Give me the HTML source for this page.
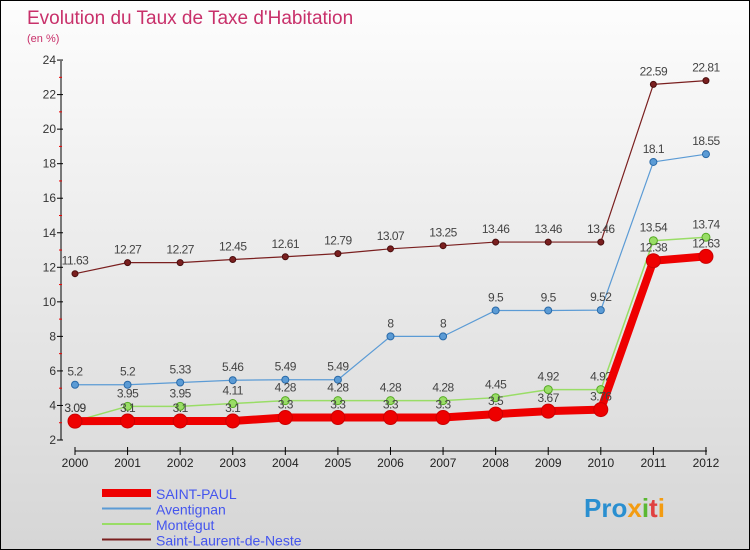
<!DOCTYPE html>
<html><head><meta charset="utf-8"><style>
body{margin:0}
#c{width:748px;height:548px;border:1px solid #000;background:linear-gradient(#fdfdfd,#d6d6d6);position:relative;font-family:"Liberation Sans",sans-serif;overflow:hidden}
</style></head><body>
<div id="c">
<svg id="s" width="748" height="548"></svg>
</div>
<script>
const years=["2000","2001","2002","2003","2004","2005","2006","2007","2008","2009","2010","2011","2012"];
const saintPaul=[3.09,3.1,3.1,3.1,3.3,3.3,3.3,3.3,3.5,3.67,3.76,12.38,12.63];
const aventignan=[5.2,5.2,5.33,5.46,5.49,5.49,8,8,9.5,9.5,9.52,18.1,18.55];
const montegut=[3.09,3.95,3.95,4.11,4.28,4.28,4.28,4.28,4.45,4.92,4.92,13.54,13.74];
const saintLaurent=[11.63,12.27,12.27,12.45,12.61,12.79,13.07,13.25,13.46,13.46,13.46,22.59,22.81];
const yTicks=[2,4,6,8,10,12,14,16,18,20,22,24];
const s=document.getElementById('s');const NS="http://www.w3.org/2000/svg";
function X(i){return 74+i*52.58}
function Y(v){return 439-(v-2)*17.27}
function el(t,a,p){const e=document.createElementNS(NS,t);for(const k in a)e.setAttribute(k,a[k]);(p||s).appendChild(e);return e}
function txt(x,y,str,a,p){const e=el('text',Object.assign({x:x,y:y},a),p);e.textContent=str;return e}
let t=txt(26,23,"Evolution du Taux de Taxe d'Habitation",{fill:"#c8306a","font-size":19});


t=txt(26,41,"(en %)",{fill:"#c8306a","font-size":11});


let ax=el('line',{x1:60,y1:60,x2:60,y2:439,stroke:"#000"});


ax=el('line',{x1:74,y1:450,x2:706,y2:450,stroke:"#000"});


yTicks.forEach(v=>{el('line',{x1:56,x2:62,y1:Y(v),y2:Y(v),stroke:"#000"});
 if(v<24)el('line',{x1:58,x2:61,y1:Y(v+1),y2:Y(v+1),stroke:"#e00"});
 const l=txt(55,Y(v)+4,String(v),{fill:"#333","font-size":12,"text-anchor":"end"});
 
 });
years.forEach((y,i)=>{el('line',{x1:X(i),x2:X(i),y1:446,y2:454,stroke:"#000"});
 const l=txt(X(i),466,y,{fill:"#222","font-size":12,"text-anchor":"middle"});
 
 });
function series(data,color,dark,w,r,name,labOff){
 const g=el('g',{});
 
 
 el('polyline',{points:data.map((v,i)=>X(i)+","+Y(v)).join(" "),fill:"none",stroke:color,"stroke-width":w,"stroke-linejoin":"round"},g);
 data.forEach((v,i)=>{const c=el('circle',{cx:X(i),cy:Y(v),r:r,fill:color,stroke:dark,"stroke-width":1},g);
  
  
  const l=txt(X(i),Y(v)+labOff,String(v),{fill:"#444","font-size":12,"text-anchor":"middle","letter-spacing":"-0.5"},g);
  
  });
}
series(saintLaurent,"#7a1f1f","#4a0e0e",1.2,3,"saint-laurent-series",-9);
series(aventignan,"#5b9bd5","#2a6aa8",1.2,3.5,"aventignan-series",-9);
series(montegut,"#99dd66","#55aa22",1.5,4,"montegut-series",-9);
series(saintPaul,"#ee0000","#cc0000",8,7,"saint-paul-series",-9);
const leg=[["SAINT-PAUL","#ee0000",8],["Aventignan","#5b9bd5",2],["Montégut","#99dd66",2],["Saint-Laurent-de-Neste","#7a1f1f",2]];
leg.forEach((l,i)=>{const y=493+i*15.5;const g=el('g',{});
 
 
 el('line',{x1:101,x2:150,y1:y-1,y2:y-1,stroke:l[1],"stroke-width":l[2]},g);
 txt(155,y+5,l[0],{fill:"#4455ee","font-size":14},g);});
const logo=el('text',{x:583,y:516,"font-size":26,"font-weight":"bold"});


[["Pro","#2a8fd0"],["x","#f39c12"],["i","#5bb832"],["t","#e04040"],["i","#f39c12"]].forEach(p=>{const ts=el('tspan',{fill:p[1]},logo);ts.textContent=p[0];});
</script>
</body></html>
